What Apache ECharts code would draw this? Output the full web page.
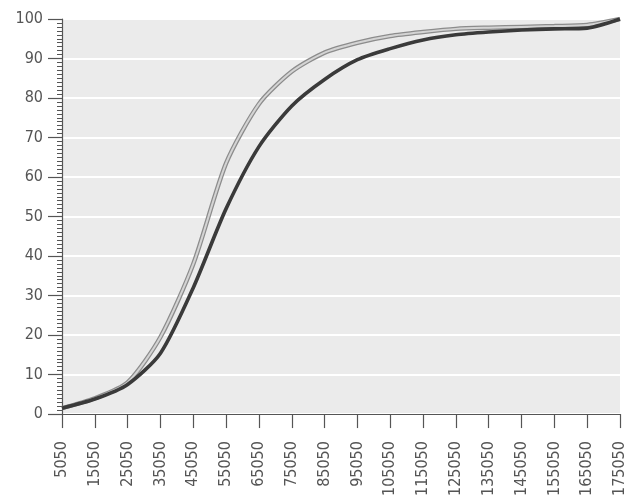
<!DOCTYPE html>
<html>
<head>
<meta charset="utf-8">
<script src="https://cdn.jsdelivr.net/npm/echarts@6/dist/echarts.min.js"></script>
<style>
  html, body { margin: 0; padding: 0; background: #ffffff; }
  #chart { width: 638px; height: 499px; }
</style>
</head>
<body>
<div id="chart"></div>
<script>
// Categories along the x axis
const categories = ['5050', '15050', '25050', '35050', '45050', '55050', '65050', '75050', '85050',
  '95050', '105050', '115050', '125050', '135050', '145050', '155050', '165050', '175050'];

// Cumulative percentages, light curve
const lightValues = [1.5, 4, 8, 19.5, 38, 63.5, 78.5, 86.7, 91.5, 94, 95.7, 96.7, 97.5, 97.8, 98, 98.2, 98.5, 100];

// Cumulative percentages, dark curve
const darkValues = [1.5, 3.8, 7.5, 15.4, 32, 52, 67.7, 78, 84.7, 89.7, 92.5, 94.7, 96, 96.7, 97.2, 97.5, 97.7, 100];

// Y tick labels
const yTicks = [0, 10, 20, 30, 40, 50, 60, 70, 80, 90, 100];

const labelFont = '"DejaVu Sans Condensed", "Liberation Sans Narrow", sans-serif';

const chart = echarts.init(document.getElementById('chart'), null, { renderer: 'canvas' });

chart.setOption({
  animation: false,
  backgroundColor: '#ffffff',
  grid: {
    left: 62, right: 18, top: 19, bottom: 81,
    show: true, backgroundColor: '#ebebeb', borderWidth: 0
  },
  xAxis: {
    type: 'category',
    data: categories,
    boundaryGap: false,
    axisLine: { show: true, lineStyle: { color: '#555555', width: 1.2 } },
    axisTick: { show: true, alignWithLabel: true, length: 14, lineStyle: { color: '#555555', width: 1.2 } },
    axisLabel: {
      rotate: 90, margin: 27, color: '#555555', fontSize: 16,
      fontFamily: labelFont, interval: 0
    },
    splitLine: { show: false }
  },
  yAxis: {
    type: 'value',
    min: 0, max: 100, interval: 10,
    axisLine: { show: true, lineStyle: { color: '#555555', width: 1.2 } },
    axisTick: { show: true, length: 14, lineStyle: { color: '#555555', width: 1.2 } },
    minorTick: { show: true, splitNumber: 10, length: 5, lineStyle: { color: '#555555', width: 1 } },
    axisLabel: {
      margin: 19, color: '#555555', fontSize: 16, fontFamily: labelFont,
      formatter: v => (yTicks.includes(v) ? String(v) : '')
    },
    splitLine: { show: true, lineStyle: { color: '#ffffff', width: 2 } }
  },
  series: [
    {
      // dark edge beneath the light curve
      name: 'light-edge', type: 'line', data: lightValues,
      smooth: 0.25, symbol: 'none', z: 2,
      lineStyle: { color: '#8c8c8c', width: 4.5 }
    },
    {
      name: 'light', type: 'line', data: lightValues,
      smooth: 0.25, symbol: 'none', z: 3,
      lineStyle: { color: '#d4d4d4', width: 2 }
    },
    {
      name: 'dark', type: 'line', data: darkValues,
      smooth: 0.25, symbol: 'none', z: 4,
      lineStyle: { color: '#3a3a3a', width: 3.6 }
    }
  ]
});
</script>
</body>
</html>
